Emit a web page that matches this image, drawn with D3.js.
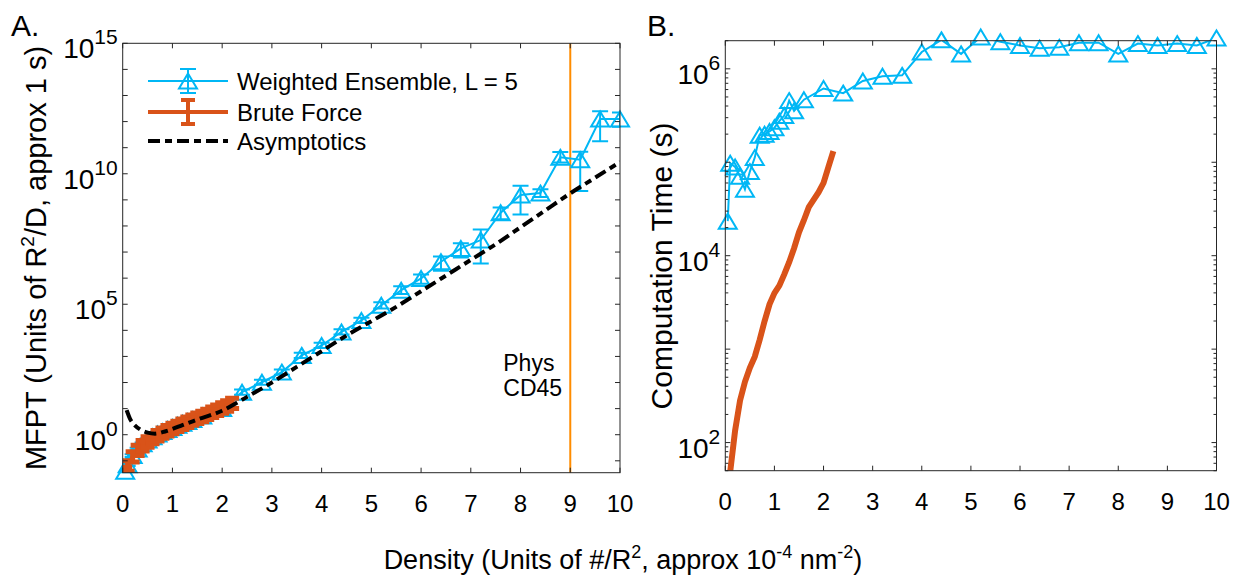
<!DOCTYPE html>
<html><head><meta charset="utf-8">
<script src="https://cdn.jsdelivr.net/npm/d3@7"></script>
<style>body{margin:0;background:#fff}svg{display:block;font-family:"Liberation Sans",Arial,Helvetica,sans-serif}</style>
</head><body><svg id="c" width="1240" height="578"></svg>
<script>
// ---- data (values stored as log10 exponents) ----
const xWE = [0.05,0.1,0.2,0.3,0.4,0.5,0.6,0.7,0.8,0.9,1.0,1.1,1.2,1.3,1.4,1.6,2.0,2.4,2.8,3.2,3.6,4.0,4.4,4.8,5.2,5.6,6.0,6.4,6.8,7.2,7.6,8.0,8.4,8.8,9.2,9.6,10.0];
const mfptWE = [-1.4,-1.15,-0.8,-0.55,-0.35,-0.2,-0.08,0.03,0.12,0.2,0.28,0.36,0.44,0.51,0.58,0.72,1.0,1.63,2.01,2.40,3.04,3.42,3.94,4.38,4.96,5.54,5.99,6.63,7.14,7.46,8.51,9.19,9.26,10.63,10.54,12.1,12.1];
const mfptWEErrUp = [0.05,0.05,0.05,0.05,0.05,0.05,0.05,0.05,0.05,0.05,0.05,0.05,0.05,0.05,0.05,0.05,0.08,0.1,0.1,0.1,0.1,0.1,0.1,0.1,0.12,0.15,0.15,0.2,0.2,0.4,0.2,0.35,0.15,0.2,0.3,0.3,0.25];
const mfptWEErrDown = [0.05,0.05,0.05,0.05,0.05,0.05,0.05,0.05,0.05,0.05,0.05,0.05,0.05,0.05,0.05,0.05,0.08,0.1,0.1,0.1,0.1,0.1,0.1,0.1,0.12,0.15,0.2,0.35,0.35,0.9,0.25,0.75,0.15,0.2,1.2,0.85,0.3];
const timeWE = [4.37,4.99,4.95,4.85,4.71,4.90,5.05,5.29,5.30,5.33,5.37,5.44,5.50,5.66,5.55,5.67,5.79,5.74,5.87,5.92,5.93,6.18,6.31,6.16,6.34,6.29,6.25,6.22,6.23,6.28,6.28,6.16,6.27,6.25,6.27,6.25,6.33];

const xBF = [0.05,0.1,0.2,0.3,0.4,0.5,0.6,0.7,0.8,0.9,1.0,1.1,1.2,1.3,1.4,1.5,1.6,1.7,1.8,1.9,2.0,2.1,2.2];
const mfptBF = [-1.45,-1.2,-0.85,-0.6,-0.42,-0.28,-0.15,-0.04,0.06,0.15,0.24,0.32,0.4,0.48,0.56,0.63,0.7,0.78,0.86,0.94,1.02,1.1,1.2];
const mfptBFErr = [0.2,0.2,0.2,0.2,0.2,0.2,0.2,0.2,0.2,0.2,0.2,0.2,0.2,0.2,0.2,0.2,0.2,0.2,0.2,0.2,0.2,0.2,0.2];
const timeBF = [1.35,1.69,2.13,2.45,2.65,2.8,2.92,3.1,3.3,3.48,3.6,3.68,3.8,3.93,4.08,4.25,4.38,4.52,4.6,4.68,4.78,4.95,5.12];

const xAsym = [0.08,0.15,0.25,0.35,0.5,0.65,0.8,1.0,1.2,1.5,2.0,2.5,3.0,3.5,4.0,4.5,5.0,5.5,6.0,6.5,7.0,7.5,8.0,8.5,9.0,9.5,10.0];
const mfptAsym = [0.94,0.6,0.35,0.2,0.08,0.04,0.1,0.22,0.37,0.58,0.92,1.45,2.0,2.6,3.2,3.8,4.35,4.9,5.5,6.1,6.7,7.3,7.95,8.6,9.25,9.85,10.45];

const xTicks = [0,1,2,3,4,5,6,7,8,9,10];
const yTicksA = [0,5,10,15];
const yTicksB = [2,4,6];
const physX = 9;
const legendLabels = ["Weighted Ensemble, L = 5","Brute Force","Asymptotics"];

const BLUE = "#00B7F5", RED = "#D95319", ORANGE = "#FF8C00", AX = "#262626";
const svg = d3.select("#c");
const p10 = e => Math.pow(10, e);

function frame(g, x, y, x0, x1, y0, y1, majorExps, minor, labelExps) {
  g.append("rect").attr("x",x0).attr("y",y1).attr("width",x1-x0).attr("height",y0-y1)
   .attr("fill","none").attr("stroke",AX).attr("stroke-width",1);
  xTicks.forEach(t=>{
    const px = x(t);
    g.append("line").attr("x1",px).attr("x2",px).attr("y1",y0).attr("y2",y0-5).attr("stroke",AX);
    g.append("line").attr("x1",px).attr("x2",px).attr("y1",y1).attr("y2",y1+5).attr("stroke",AX);
    g.append("text").attr("x",px).attr("y",y0+39).attr("text-anchor","middle")
     .attr("font-size",24).attr("fill","#000").text(t);
  });
  const minorTicks = e => {
    for (let m=2;m<10;m++){
      const pm = y(m*p10(e));
      if (pm < y1 || pm > y0) continue;
      g.append("line").attr("x1",x0).attr("x2",x0+3).attr("y1",pm).attr("y2",pm).attr("stroke",AX);
      g.append("line").attr("x1",x1).attr("x2",x1-3).attr("y1",pm).attr("y2",pm).attr("stroke",AX);
    }
  };
  majorExps.forEach(e=>{
    const py = y(p10(e));
    if (minor) minorTicks(e);
    if (py < y1-0.5 || py > y0+0.5) return;
    g.append("line").attr("x1",x0).attr("x2",x0+5).attr("y1",py).attr("y2",py).attr("stroke",AX);
    g.append("line").attr("x1",x1).attr("x2",x1-5).attr("y1",py).attr("y2",py).attr("stroke",AX);
  });
  if (minor) minorTicks(majorExps[0]-1);
  labelExps.forEach(e=>{
    const py = y(p10(e));
    const t = g.append("text").attr("x",x0-5).attr("y",py+15).attr("text-anchor","end").attr("fill","#000").attr("font-size",28);
    t.append("tspan").text("10");
    t.append("tspan").attr("dy",-14).attr("font-size",21).text(e);
  });
}

function tri(g, cx, cy, color) {
  const w=9, h=7.5;
  g.append("path").attr("d",`M${cx},${cy-h}L${cx+w},${cy+h}L${cx-w},${cy+h}Z`)
   .attr("fill","none").attr("stroke",color).attr("stroke-width",2);
}

// ================= Panel A =================
const xA = d3.scaleLinear().domain([0,10]).range([122.7,620]);
const yA = d3.scaleLog().domain([0.035,1e15]).range([472.7,43.3]);
const gA = svg.append("g");
svg.append("clipPath").attr("id","clipA").append("rect").attr("x",122.7).attr("y",43.3).attr("width",620-122.7).attr("height",472.7-43.3);
const cA = gA.append("g").attr("clip-path","url(#clipA)");

cA.append("line").attr("x1",xA(physX)).attr("x2",xA(physX)).attr("y1",43.3).attr("y2",472.7)
  .attr("stroke",ORANGE).attr("stroke-width",2);
gA.append("text").attr("x",xA(physX)-67).attr("y",371).attr("font-size",23).text("Phys");
gA.append("text").attr("x",xA(physX)-67).attr("y",396).attr("font-size",23).text("CD45");

const lineA = d3.line().x(d=>xA(d[0])).y(d=>yA(p10(d[1])));
const weA = xWE.map((x,i)=>[x,mfptWE[i]]);
cA.append("path").attr("d",lineA(weA)).attr("fill","none").attr("stroke",BLUE).attr("stroke-width",2);
xWE.forEach((x,i)=>{
  const px=xA(x), yl=yA(p10(mfptWE[i]-mfptWEErrDown[i])), yh=yA(p10(mfptWE[i]+mfptWEErrUp[i]));
  cA.append("line").attr("x1",px).attr("x2",px).attr("y1",yl).attr("y2",yh).attr("stroke",BLUE).attr("stroke-width",2);
  cA.append("line").attr("x1",px-8).attr("x2",px+8).attr("y1",yl).attr("y2",yl).attr("stroke",BLUE).attr("stroke-width",2);
  cA.append("line").attr("x1",px-8).attr("x2",px+8).attr("y1",yh).attr("y2",yh).attr("stroke",BLUE).attr("stroke-width",2);
});
const triA = gA.append("g");
xWE.forEach((x,i)=>tri(triA, xA(x), yA(p10(mfptWE[i])), BLUE));

// Brute force (drawn over the WE markers)
const cA2 = gA.append("g").attr("clip-path","url(#clipA)");
const bfA = xBF.map((x,i)=>[x,mfptBF[i]]);
cA2.append("path").attr("d",lineA(bfA)).attr("fill","none").attr("stroke",RED).attr("stroke-width",4);
xBF.forEach((x,i)=>{
  const px=xA(x), yl=yA(p10(mfptBF[i]-mfptBFErr[i])), yh=yA(p10(mfptBF[i]+mfptBFErr[i]));
  cA2.append("line").attr("x1",px).attr("x2",px).attr("y1",yl).attr("y2",yh).attr("stroke",RED).attr("stroke-width",5);
  cA2.append("line").attr("x1",px-7).attr("x2",px+7).attr("y1",yl).attr("y2",yl).attr("stroke",RED).attr("stroke-width",5);
  cA2.append("line").attr("x1",px-7).attr("x2",px+7).attr("y1",yh).attr("y2",yh).attr("stroke",RED).attr("stroke-width",5);
});

// Asymptotics
const asA = xAsym.map((x,i)=>[x,mfptAsym[i]]);
cA2.append("path").attr("d",d3.line().curve(d3.curveMonotoneX).x(d=>xA(d[0])).y(d=>yA(p10(d[1])))(asA))
  .attr("fill","none").attr("stroke","#000").attr("stroke-width",4).attr("stroke-dasharray","12,5,7,5");

frame(gA, xA, yA, 122.7, 620, 472.7, 43.3, d3.range(-1,16), false, yTicksA);

// Legend
const lg = gA.append("g");
const lx0=148, lx1=228, lxc=188, ly=[81,112,141];
lg.append("line").attr("x1",lx0).attr("x2",lx1).attr("y1",ly[0]).attr("y2",ly[0]).attr("stroke",BLUE).attr("stroke-width",2);
lg.append("line").attr("x1",lxc).attr("x2",lxc).attr("y1",ly[0]-12).attr("y2",ly[0]+12).attr("stroke",BLUE).attr("stroke-width",2);
[ly[0]-12,ly[0]+12].forEach(yy=>lg.append("line").attr("x1",lxc-8).attr("x2",lxc+8).attr("y1",yy).attr("y2",yy).attr("stroke",BLUE).attr("stroke-width",2));
tri(lg,lxc,ly[0],BLUE);
lg.append("line").attr("x1",lx0).attr("x2",lx1).attr("y1",ly[1]).attr("y2",ly[1]).attr("stroke",RED).attr("stroke-width",4);
lg.append("line").attr("x1",lxc).attr("x2",lxc).attr("y1",ly[1]-12).attr("y2",ly[1]+12).attr("stroke",RED).attr("stroke-width",4);
[ly[1]-12,ly[1]+12].forEach(yy=>lg.append("line").attr("x1",lxc-7).attr("x2",lxc+7).attr("y1",yy).attr("y2",yy).attr("stroke",RED).attr("stroke-width",4));
lg.append("line").attr("x1",lx0).attr("x2",lx1).attr("y1",ly[2]).attr("y2",ly[2]).attr("stroke","#000").attr("stroke-width",4).attr("stroke-dasharray","12,5,7,5");
legendLabels.forEach((t,i)=>lg.append("text").attr("x",237).attr("y",ly[i]+8.5).attr("font-size",24).text(t));

// ================= Panel B =================
const xB = d3.scaleLinear().domain([0,10]).range([725.3,1216.5]);
const yB = d3.scaleLog().domain([50,2e6]).range([470.7,40.7]);
const gB = svg.append("g");
svg.append("clipPath").attr("id","clipB").append("rect").attr("x",725.3).attr("y",40.7).attr("width",1216.5-725.3).attr("height",470.7-40.7);
const cB = gB.append("g").attr("clip-path","url(#clipB)");
const lineB = d3.line().x(d=>xB(d[0])).y(d=>yB(p10(d[1])));
cB.append("path").attr("d",lineB(xWE.map((x,i)=>[x,timeWE[i]]))).attr("fill","none").attr("stroke",BLUE).attr("stroke-width",2);
xWE.forEach((x,i)=>tri(gB, xB(x), yB(p10(timeWE[i])), BLUE));
cB.append("path").attr("d",lineB(xBF.map((x,i)=>[x,timeBF[i]]))).attr("fill","none").attr("stroke",RED).attr("stroke-width",6);
frame(gB, xB, yB, 725.3, 1216.5, 470.7, 40.7, d3.range(2,7), true, yTicksB);

// ================= Labels =================
svg.append("text").attr("x",11).attr("y",36).attr("font-size",30).text("A.");
svg.append("text").attr("x",647).attr("y",36).attr("font-size",30).text("B.");
const yl = svg.append("text").attr("transform","translate(46,258) rotate(-90)").attr("text-anchor","middle").attr("font-size",29);
yl.append("tspan").text("MFPT (Units of R");
yl.append("tspan").attr("dy",-12).attr("font-size",19).text("2");
yl.append("tspan").attr("dy",12).text("/D, approx 1 s)");
svg.append("text").attr("transform","translate(672,266) rotate(-90)").attr("text-anchor","middle").attr("font-size",30).text("Computation Time (s)");
const xl = svg.append("text").attr("x",623).attr("y",569).attr("text-anchor","middle").attr("font-size",27);
xl.append("tspan").text("Density (Units of #/R");
xl.append("tspan").attr("dy",-11).attr("font-size",18).text("2");
xl.append("tspan").attr("dy",11).text(", approx 10");
xl.append("tspan").attr("dy",-11).attr("font-size",18).text("-4");
xl.append("tspan").attr("dy",11).text(" nm");
xl.append("tspan").attr("dy",-11).attr("font-size",18).text("-2");
xl.append("tspan").attr("dy",11).text(")");
</script></body></html>
